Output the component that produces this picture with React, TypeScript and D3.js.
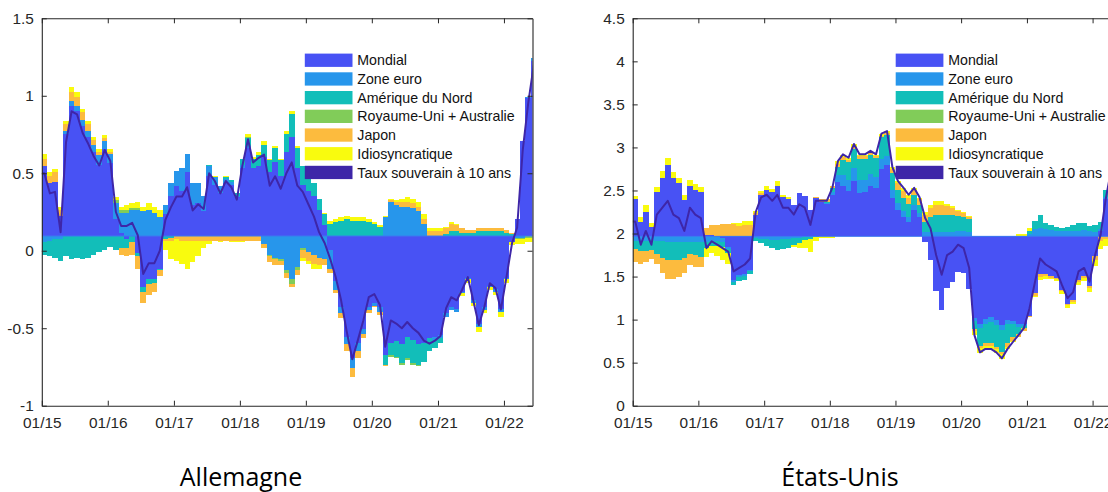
import React, { useEffect, useRef } from "react"
import * as d3 from "d3"

// monthly observations, Jan 2015 .. Jun 2022
const months = d3.timeMonth.range(new Date(2015, 0, 1), new Date(2022, 6, 1))
const xStart = new Date(2015, 0, 1)
const xEnd = new Date(2022, 5, 8)
const xTickYears = [2015, 2016, 2017, 2018, 2019, 2020, 2021, 2022]

const keys = ["mondial", "zoneEuro", "ameriqueNord", "ruAus", "japon", "idio"]
const labels = ["Mondial", "Zone euro", "Amérique du Nord", "Royaume-Uni + Australie", "Japon", "Idiosyncratique"]
const lineLabel = "Taux souverain à 10 ans"
const colors = ["rgb(72,82,244)", "rgb(39,150,235)", "rgb(18,190,185)", "rgb(129,204,89)", "rgb(252,187,62)", "rgb(249,251,14)"]
const lineColor = "rgb(62,38,168)"

// Allemagne
const deTitle = "Allemagne"
const deBase = 0.095
const deTicks = [-1, -0.5, 0, 0.5, 1, 1.5]
const deTaux = [
  0.50, 0.37, 0.38, 0.12, 0.70, 0.90, 0.88, 0.76, 0.69, 0.61, 0.55, 0.65,
  0.58, 0.25, 0.16, 0.16, 0.18, 0.10, -0.15, -0.08, -0.08, 0.00, 0.20, 0.28,
  0.35, 0.35, 0.41, 0.26, 0.30, 0.27, 0.50, 0.45, 0.37, 0.45, 0.41, 0.33,
  0.55, 0.72, 0.57, 0.60, 0.62, 0.42, 0.48, 0.40, 0.50, 0.57, 0.42, 0.38,
  0.30, 0.22, 0.12, 0.05, -0.05, -0.17, -0.32, -0.52, -0.70, -0.58, -0.45, -0.30,
  -0.28, -0.35, -0.62, -0.45, -0.47, -0.50, -0.46, -0.50, -0.53, -0.58, -0.60, -0.58,
  -0.55, -0.37, -0.30, -0.32, -0.25, -0.17, -0.32, -0.48, -0.36, -0.21, -0.24, -0.38,
  -0.17, 0.05, 0.15, 0.65, 0.95, 1.20]
const deMondial = [
  0.45, 0.34, 0.35, 0.13, 0.66, 0.84, 0.81, 0.71, 0.64, 0.54, 0.46, 0.56,
  0.47, 0.11, 0.02, -0.02, 0.00, -0.11, -0.33, -0.28, -0.28, -0.21, 0.14, 0.26,
  0.32, 0.29, 0.41, 0.20, 0.21, 0.16, 0.39, 0.33, 0.28, 0.34, 0.33, 0.25,
  0.44, 0.57, 0.44, 0.45, 0.51, 0.41, 0.48, 0.39, 0.54, 0.64, 0.44, 0.33,
  0.29, 0.26, 0.17, 0.07, -0.09, -0.29, -0.46, -0.65, -0.79, -0.69, -0.60, -0.46,
  -0.43, -0.46, -0.77, -0.69, -0.68, -0.70, -0.65, -0.67, -0.70, -0.69, -0.66, -0.65,
  -0.64, -0.50, -0.46, -0.47, -0.36, -0.27, -0.41, -0.57, -0.46, -0.32, -0.34, -0.47,
  -0.27, -0.04, 0.11, 0.61, 0.89, 1.13]
const deZoneEuro = [
  -0.04, -0.03, -0.02, -0.02, 0.02, 0.03, 0.03, 0.04, 0.04, 0.05, 0.06, 0.05,
  0.06, 0.10, 0.13, 0.15, 0.17, 0.17, 0.16, 0.17, 0.15, 0.12, 0.06, 0.08,
  0.10, 0.15, 0.12, 0.14, 0.13, 0.10, 0.06, 0.05, 0.04, 0.03, 0.02, 0.01,
  0.02, 0.01, 0.00, 0.00, -0.05, -0.12, -0.14, -0.15, -0.22, -0.28, -0.20, -0.08,
  -0.10, -0.12, -0.14, -0.15, -0.12, -0.06, -0.04, -0.05, -0.06, -0.05, -0.03, -0.02,
  -0.02, -0.03, 0.12, 0.22, 0.20, 0.19, 0.19, 0.18, 0.16, 0.08, 0.00, -0.02,
  -0.02, -0.02, -0.02, -0.02, -0.01, -0.01, -0.02, -0.02, -0.02, -0.01, -0.02, -0.02,
  -0.01, 0.00, -0.01, -0.01, 0.01, 0.02]
const deAmeriqueNord = [
  -0.08, -0.10, -0.12, -0.14, -0.13, -0.15, -0.14, -0.15, -0.14, -0.12, -0.10, -0.09,
  -0.07, -0.09, -0.08, -0.06, -0.04, -0.02, -0.03, -0.03, -0.02, -0.01, -0.02, -0.01,
  0.00, 0.00, 0.00, 0.00, 0.00, 0.00, 0.01, 0.00, 0.00, 0.01, 0.01, 0.02,
  0.04, 0.05, 0.06, 0.07, 0.08, 0.08, 0.09, 0.10, 0.12, 0.15, 0.13, 0.12,
  0.10, 0.08, 0.07, 0.07, 0.08, 0.09, 0.10, 0.11, 0.10, 0.10, 0.10, 0.09,
  0.08, 0.06, -0.06, -0.08, -0.10, -0.12, -0.14, -0.15, -0.13, -0.12, -0.08, -0.05,
  -0.03, 0.01, 0.03, 0.03, 0.02, 0.02, 0.02, 0.03, 0.03, 0.03, 0.03, 0.03,
  0.02, 0.01, 0.00, 0.00, 0.00, 0.00]
const deRuAus = [
  0, 0, 0, 0, 0, 0, 0, 0, 0, 0, 0, 0,
  0, 0.02, 0.02, 0.02, 0.01, 0.01, 0, 0, 0, 0, 0, 0,
  0, 0, 0, 0, 0, 0, 0, 0, 0, 0, 0, 0,
  0, 0.01, 0, 0, 0, -0.01, -0.01, -0.01, -0.02, -0.03, -0.02, -0.01,
  0, 0, 0, 0, 0, 0, 0, 0, 0, 0, 0, 0,
  0, 0, 0, -0.01, -0.01, -0.01, -0.01, -0.01, -0.01, 0, 0, 0,
  0, 0, 0, 0, 0, 0, 0, 0, 0, 0, 0, 0,
  0, 0, -0.01, -0.01, -0.01, -0.01]
const deJapon = [
  0.05, 0.05, 0.06, 0.04, 0.04, 0.06, 0.06, 0.05, 0.04, 0.03, 0.02, 0.02,
  0.01, 0.00, -0.04, -0.05, -0.08, -0.08, -0.07, -0.07, -0.06, -0.04, -0.01, -0.02,
  -0.02, -0.03, -0.03, -0.03, -0.03, -0.03, -0.03, -0.03, -0.03, -0.03, -0.03, -0.03,
  -0.03, -0.03, -0.03, -0.03, -0.03, -0.04, -0.04, -0.03, -0.03, -0.02, -0.03, -0.05,
  -0.06, -0.06, -0.05, -0.04, -0.03, -0.02, -0.03, -0.04, -0.06, -0.05, -0.03, -0.02,
  -0.01, -0.02, -0.01, 0.01, 0.02, 0.03, 0.03, 0.03, 0.03, 0.03, 0.03, 0.03,
  0.03, 0.04, 0.05, 0.04, 0.03, 0.02, 0.02, 0.02, 0.02, 0.02, 0.02, 0.02,
  0.02, 0.01, 0.00, 0.00, 0.00, 0.00]
const deIdio = [
  0.03, 0.02, 0.02, 0.02, 0.02, 0.03, 0.03, 0.02, 0.02, 0.02, 0.02, 0.02,
  0.02, 0.02, 0.02, 0.03, 0.03, 0.04, 0.03, 0.04, 0.04, 0.05, -0.06, -0.12,
  -0.14, -0.15, -0.18, -0.14, -0.10, -0.05, -0.02, 0.01, -0.01, 0.01, -0.01, -0.01,
  -0.01, 0.02, 0.01, 0.02, 0.02, 0.01, 0.01, 0.01, 0.02, 0.02, 0.01, -0.02,
  -0.02, -0.03, -0.02, 0.01, 0.02, 0.02, 0.02, 0.02, 0.02, 0.02, 0.02, 0.02,
  0.01, 0.01, 0.01, 0.01, 0.01, 0.02, 0.03, 0.03, 0.03, 0.03, 0.02, 0.02,
  0.02, 0.01, 0.01, 0.01, -0.02, -0.02, -0.02, -0.03, -0.02, -0.02, -0.02, -0.03,
  -0.02, -0.02, -0.03, -0.03, -0.03, -0.03]

// États-Unis
const usTitle = "États-Unis"
const usBase = 1.967
const usTicks = [0, 0.5, 1, 1.5, 2, 2.5, 3, 3.5, 4, 4.5]
const usTaux = [
  2.14, 1.87, 2.03, 1.87, 2.22, 2.30, 2.38, 2.22, 2.18, 2.03, 2.30, 2.22,
  2.18, 1.83, 1.91, 1.87, 1.83, 1.79, 1.56, 1.60, 1.64, 1.71, 2.25, 2.42,
  2.45, 2.38, 2.45, 2.30, 2.30, 2.22, 2.34, 2.30, 2.10, 2.38, 2.38, 2.38,
  2.53, 2.84, 2.92, 2.88, 3.04, 2.92, 2.92, 2.96, 2.92, 3.16, 3.19, 2.77,
  2.61, 2.53, 2.45, 2.53, 2.42, 2.18, 2.06, 1.75, 1.52, 1.75, 1.79, 1.87,
  1.83, 1.60, 0.82, 0.62, 0.66, 0.66, 0.62, 0.55, 0.66, 0.74, 0.82, 0.90,
  1.13, 1.44, 1.71, 1.64, 1.60, 1.56, 1.40, 1.25, 1.32, 1.56, 1.60, 1.44,
  1.75, 1.99, 2.40, 2.75]
const usMondial = [
  0.43, 0.17, 0.28, 0.11, 0.52, 0.68, 0.83, 0.68, 0.62, 0.42, 0.58, 0.54,
  0.51, 0.02, 0.02, 0.00, -0.02, -0.12, -0.51, -0.45, -0.44, -0.39, 0.25, 0.48,
  0.54, 0.51, 0.59, 0.46, 0.43, 0.37, 0.50, 0.47, 0.31, 0.44, 0.40, 0.38,
  0.48, 0.63, 0.59, 0.53, 0.64, 0.50, 0.51, 0.58, 0.56, 0.78, 0.83, 0.44,
  0.31, 0.22, 0.17, 0.31, 0.22, -0.07, -0.27, -0.63, -0.86, -0.60, -0.53, -0.41,
  -0.42, -0.61, -0.95, -1.02, -0.96, -0.94, -0.97, -1.03, -0.97, -0.98, -1.02, -1.02,
  -0.92, -0.66, -0.44, -0.44, -0.46, -0.48, -0.62, -0.78, -0.74, -0.51, -0.46, -0.58,
  -0.23, 0.06, 0.43, 0.82]
const usZoneEuro = [
  -0.05, -0.05, -0.05, -0.04, -0.05, -0.05, -0.06, -0.06, -0.07, -0.07, -0.06, -0.06,
  -0.06, -0.06, -0.05, -0.05, -0.05, -0.03, -0.02, -0.02, -0.02, -0.01, -0.02, -0.03,
  -0.03, -0.04, -0.04, -0.03, -0.03, -0.02, -0.02, -0.01, -0.01, 0.00, 0.00, 0.01,
  0.04, 0.08, 0.12, 0.13, 0.15, 0.15, 0.14, 0.14, 0.13, 0.12, 0.10, 0.10,
  0.08, 0.08, 0.06, 0.05, 0.05, 0.05, 0.05, 0.05, 0.05, 0.05, 0.05, 0.06,
  0.06, 0.05, -0.03, -0.05, -0.06, -0.06, -0.06, -0.06, -0.05, -0.04, -0.03, -0.02,
  0.03, 0.08, 0.10, 0.08, 0.07, 0.06, 0.06, 0.06, 0.06, 0.06, 0.07, 0.06,
  0.05, 0.03, 0.03, 0.02]
const usAmeriqueNord = [
  -0.10, -0.12, -0.12, -0.12, -0.15, -0.20, -0.22, -0.22, -0.20, -0.18, -0.15, -0.16,
  -0.18, -0.08, -0.06, -0.06, -0.05, -0.04, -0.04, -0.05, -0.05, -0.04, -0.03, -0.05,
  -0.08, -0.10, -0.12, -0.12, -0.10, -0.08, -0.06, -0.03, -0.02, -0.01, 0.00, 0.01,
  0.04, 0.10, 0.18, 0.20, 0.22, 0.25, 0.25, 0.22, 0.22, 0.25, 0.25, 0.20,
  0.15, 0.15, 0.15, 0.12, 0.10, 0.12, 0.18, 0.20, 0.20, 0.20, 0.20, 0.18,
  0.17, 0.15, -0.10, -0.20, -0.22, -0.24, -0.25, -0.25, -0.22, -0.15, -0.08, -0.03,
  0.03, 0.10, 0.15, 0.08, 0.06, 0.05, 0.04, 0.05, 0.07, 0.10, 0.08, 0.06,
  0.08, 0.08, 0.08, 0.05]
const usRuAus = [
  0, 0, 0, 0, 0, 0, 0, 0, 0, 0, 0, 0,
  0, 0, 0, 0, 0, 0, 0, 0, 0, 0, 0, 0,
  0, 0, 0, 0, 0, 0, 0, 0, 0, 0, 0, 0,
  0, 0, 0, 0, 0, 0, 0, 0, 0, 0, 0, 0,
  0, 0, 0, 0, 0, 0, 0, 0, 0, 0, 0, 0,
  0, 0, 0.01, 0.01, 0.01, 0.01, 0.01, 0.01, 0.01, 0.01, 0.01, 0,
  0, 0, 0, 0, 0, 0, 0, 0, 0, 0, 0, 0,
  0, 0, 0, 0]
const usJapon = [
  -0.15, -0.15, -0.13, -0.10, -0.12, -0.18, -0.22, -0.22, -0.20, -0.17, -0.12, -0.14,
  -0.12, 0.08, 0.11, 0.13, 0.14, 0.14, 0.14, 0.12, 0.13, 0.13, 0.02, 0.02,
  0.00, 0.00, 0.00, 0.00, 0.00, 0.00, 0.00, 0.00, 0.00, 0.02, 0.03, 0.03,
  0.02, 0.03, 0.03, 0.03, 0.03, 0.03, 0.03, 0.03, 0.02, 0.02, 0.02, 0.04,
  0.08, 0.08, 0.07, 0.06, 0.06, 0.08, 0.10, 0.12, 0.12, 0.10, 0.08, 0.06,
  0.04, 0.03, -0.02, -0.03, -0.03, -0.03, -0.03, -0.03, -0.04, -0.04, -0.04, -0.03,
  -0.02, -0.03, -0.03, -0.02, -0.02, -0.02, -0.02, -0.02, -0.02, -0.02, -0.02, -0.02,
  -0.04, -0.05, -0.03, -0.03]
const usIdio = [
  0.04, 0.05, 0.08, 0.05, 0.05, 0.08, 0.08, 0.07, 0.06, 0.06, 0.08, 0.07,
  0.06, -0.10, -0.08, -0.12, -0.16, -0.13, 0.02, 0.03, 0.05, 0.05, 0.03, 0.03,
  0.05, 0.04, 0.05, 0.02, 0.03, -0.02, -0.05, -0.10, -0.15, -0.04, -0.02, -0.02,
  -0.02, 0.03, 0.03, 0.02, 0.03, 0.02, 0.02, 0.02, 0.02, 0.02, 0.02, 0.02,
  0.02, 0.03, 0.03, 0.02, 0.02, 0.03, 0.03, 0.04, 0.04, 0.03, 0.02, 0.01,
  0.01, 0.01, -0.05, -0.05, -0.04, -0.04, -0.04, -0.05, -0.03, -0.02, 0.02, 0.03,
  0.04, -0.02, -0.04, -0.03, -0.02, -0.02, -0.03, -0.03, -0.02, -0.04, -0.04, -0.05,
  -0.08, -0.10, -0.08, -0.08]

const plotTop = 18.3
const plotBottom = 405.7
const axisColor = "#262626"
const tickFont = "15.4px 'Liberation Sans', Arial, sans-serif"

function drawPanel(svg, cfg) {
  const g = svg.append("g")
  const x = d3.scaleTime().domain([xStart, xEnd]).range([cfg.x0, cfg.x1])
  const y = d3.scaleLinear().domain(cfg.yDomain).range([plotBottom, plotTop])
  const mids = months.slice(0, cfg.taux.length).map(d => d3.timeDay.offset(d, 14))

  const rows = mids.map((d, i) => {
    const r: any = { date: d }
    keys.forEach((k, j) => { r[k] = cfg.comps[j][i] })
    return r
  })
  const stacked = d3.stack().keys(keys).offset(d3.stackOffsetDiverging)(rows)

  const clipId = "clip-" + cfg.id
  g.append("clipPath").attr("id", clipId)
    .append("rect")
    .attr("x", cfg.x0).attr("y", plotTop)
    .attr("width", cfg.x1 - cfg.x0).attr("height", plotBottom - plotTop)
  const plot = g.append("g").attr("clip-path", `url(#${clipId})`)

  const extend = (pts) => {
    pts.unshift({ ...pts[0], x: cfg.x0 })
    if (pts[pts.length - 1].x < cfg.x1) pts.push({ ...pts[pts.length - 1], x: cfg.x1 })
    return pts
  }

  const area = d3.area<any>()
    .curve(d3.curveStep)
    .x(p => p.x)
    .y0(p => y(cfg.base + p.lo))
    .y1(p => y(cfg.base + p.hi))

  stacked.forEach((s, j) => {
    const pts = extend(s.map((p, i) => ({ x: x(mids[i]), lo: p[0], hi: p[1] })))
    plot.append("path")
      .attr("d", area(pts))
      .attr("fill", colors[j])
      .attr("shape-rendering", "crispEdges")
  })

  plot.append("line")
    .attr("x1", cfg.x0).attr("x2", cfg.x1)
    .attr("y1", y(cfg.base)).attr("y2", y(cfg.base))
    .attr("stroke", "rgb(60,120,240)")
    .attr("stroke-width", 1)

  const linePts = extend(cfg.taux.map((v, i) => ({ x: x(mids[i]), v })))
  plot.append("path")
    .attr("d", d3.line<any>().x(p => p.x).y(p => y(p.v))(linePts))
    .attr("fill", "none")
    .attr("stroke", lineColor)
    .attr("stroke-width", 2)
    .attr("stroke-linejoin", "round")

  // axes box with inward ticks
  const yearTicks = xTickYears.map(yr => new Date(yr, 0, 1))
  const ax = g.append("g").attr("color", axisColor)
  ax.append("g")
    .attr("transform", `translate(0,${plotBottom})`)
    .call(d3.axisBottom(x).tickValues(yearTicks).tickFormat(d3.timeFormat("%m/%y")).tickSize(-5).tickSizeOuter(0).tickPadding(11))
  ax.append("g")
    .attr("transform", `translate(0,${plotTop})`)
    .call(d3.axisTop(x).tickValues(yearTicks).tickFormat(() => "").tickSize(-5).tickSizeOuter(0))
  ax.append("g")
    .attr("transform", `translate(${cfg.x0},0)`)
    .call(d3.axisLeft(y).tickValues(cfg.ticks).tickFormat(d => String(d)).tickSize(-5).tickSizeOuter(0).tickPadding(8))
  ax.append("g")
    .attr("transform", `translate(${cfg.x1},0)`)
    .call(d3.axisRight(y).tickValues(cfg.ticks).tickFormat(() => "").tickSize(-5).tickSizeOuter(0))
  ax.selectAll("text").style("font", tickFont).attr("fill", axisColor)
  ax.selectAll("path.domain").attr("stroke-width", 1.1)

  // legend
  const lg = g.append("g").attr("transform", `translate(${cfg.x0 + 263},0)`)
  const entries = labels.map((l, i) => ({ label: l, color: colors[i] }))
  entries.push({ label: lineLabel, color: lineColor })
  entries.forEach((e, i) => {
    const cy = 60.2 + i * 18.7
    lg.append("rect").attr("x", 0).attr("y", cy - 6.6).attr("width", 47.7).attr("height", 13.3).attr("fill", e.color)
    lg.append("text").attr("x", 52.5).attr("y", cy).attr("dy", "0.36em")
      .style("font", "14.2px 'Liberation Sans', Arial, sans-serif")
      .attr("fill", "#111")
      .text(e.label)
  })

  svg.append("text")
    .attr("x", cfg.titleX).attr("y", 486)
    .attr("text-anchor", "middle")
    .style("font", "25px 'Open Sans', sans-serif")
    .attr("fill", "#000")
    .text(cfg.title)
}

export default function App() {
  const ref = useRef<SVGSVGElement>(null)
  useEffect(() => {
    const svg = d3.select(ref.current)
    svg.selectAll("*").remove()
    drawPanel(svg, {
      id: "de", title: deTitle, titleX: 241, x0: 41.8, x1: 532.5,
      yDomain: [-1, 1.5], ticks: deTicks, base: deBase, taux: deTaux,
      comps: [deMondial, deZoneEuro, deAmeriqueNord, deRuAus, deJapon, deIdio],
    })
    drawPanel(svg, {
      id: "us", title: usTitle, titleX: 840, x0: 632.7, x1: 1121,
      yDomain: [0, 4.5], ticks: usTicks, base: usBase, taux: usTaux,
      comps: [usMondial, usZoneEuro, usAmeriqueNord, usRuAus, usJapon, usIdio],
    })
  }, [])
  return (
    <svg ref={ref} width={1108} height={492}
      style={{ position: "absolute", left: 0, top: 0, background: "#fff" }} />
  )
}
